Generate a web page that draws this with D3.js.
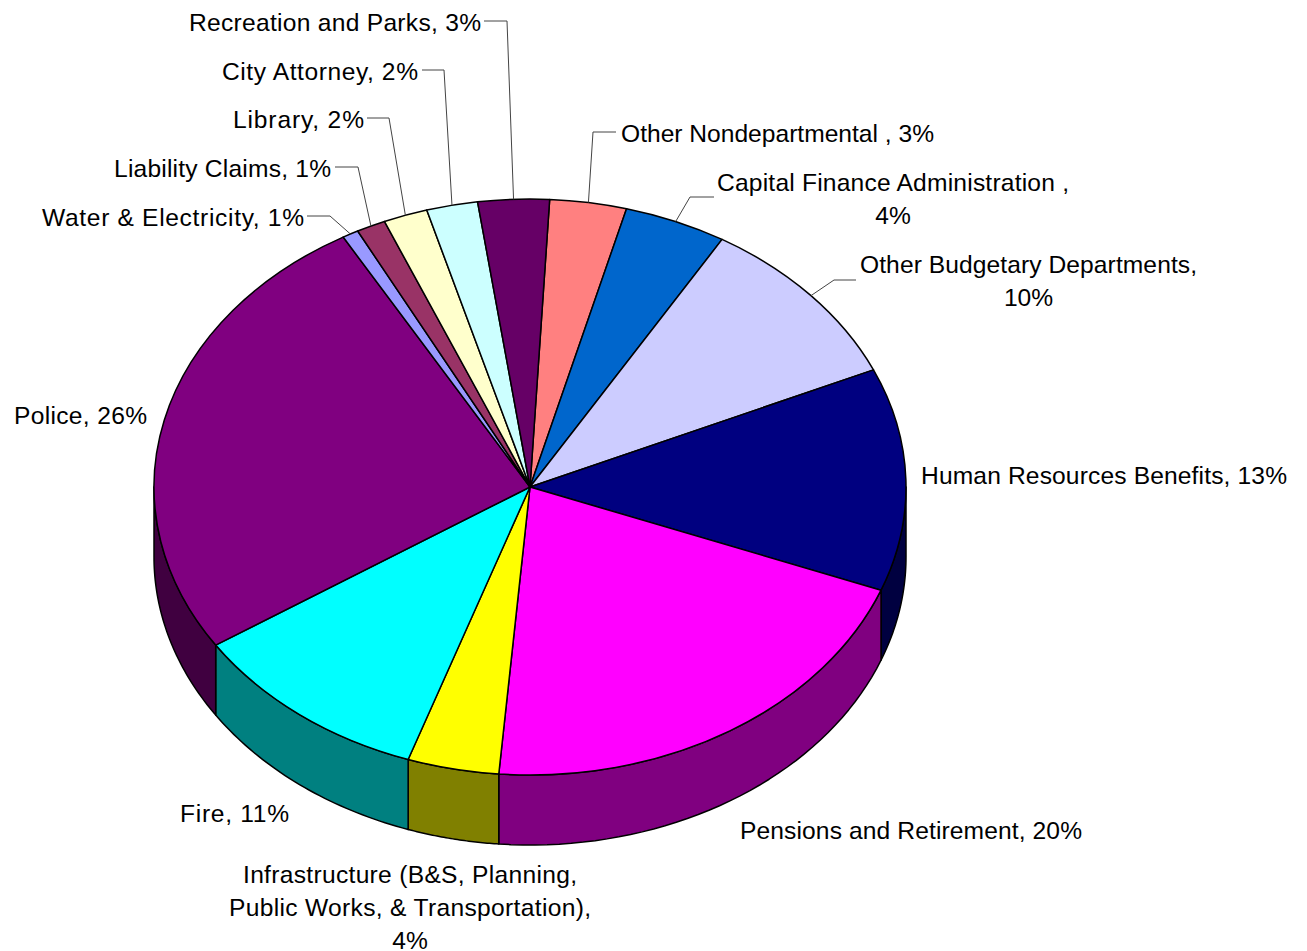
<!DOCTYPE html>
<html>
<head>
<meta charset="utf-8">
<script src="https://cdn.jsdelivr.net/npm/d3@7/dist/d3.min.js"></script>
<style>
html,body{margin:0;padding:0;background:#fff;overflow:hidden}
svg{display:block}
text{font-family:"Liberation Sans",Arial,sans-serif;font-size:24.6px;fill:#000}
</style>
</head>
<body>
<svg id="chart" width="1307" height="951"></svg>
<script>
// General fund shares by department, clockwise from the top of the pie
const departments = [
  "Other Nondepartmental ",
  "Capital Finance Administration ",
  "Other Budgetary Departments",
  "Human Resources Benefits",
  "Pensions and Retirement",
  "Infrastructure (B&S, Planning,\nPublic Works, & Transportation)",
  "Fire",
  "Police",
  "Water & Electricity",
  "Liability Claims",
  "Library",
  "City Attorney",
  "Recreation and Parks"
];
const shares = [3.3, 4.4, 9.8, 12.5, 20.49, 3.93, 10.5, 25.97, 0.7, 1.25, 1.9, 2.2, 3.06];
const topColors = ["#FF8080","#0066CC","#CCCCFF","#000080","#FF00FF","#FFFF00","#00FFFF","#800080","#9999FF","#993366","#FFFFCC","#CCFFFF","#660066"];
const wallColors = ["#804040","#003366","#666680","#000040","#800080","#808000","#008080","#400040","#4d4d80","#4d1933","#808066","#668080","#330033"];

// Label placement, in the same order as the departments
const labelX = [621, 893, 1028.5, 921, 740, 410, 180, 14, 42, 114, 233, 222, 189];
const labelY = [142, 191, 273, 484, 839, 883, 822, 424, 226, 177, 128, 80, 31];
const labelAnchor = ["start","middle","middle","start","start","middle","start","start","start","start","start","start","start"];
const wrapped = [false, true, true, false, false, true, false, false, false, false, false, false, false];
// Set widths of each label's lines, so the text runs fill the same extent
const lineWidths = [[313],[352,null],[337,null],[366],[342],[334,362,null],[109],[133],[262],[217],[131],[196],[292]];

// Leader polylines start beside the label and bend once before reaching the slice
const leaderStart = [[616,132],[714,197],[856,280],null,null,null,null,null,[307,216],[335,167],[367,118],[422,70],[484,21]];
const leaderBend  = [[593,132],[690,197],[834,280],null,null,null,null,null,[330,216],[358,167],[389,118],[444,70],[507,21]];

const cx = 530, cy = 487, rx = 376, ry = 288, depth = 70;
const svg = d3.select("#chart");

const pie = d3.pie().sort(null)
  .startAngle(3 * Math.PI / 180)
  .endAngle(3 * Math.PI / 180 + 2 * Math.PI);
const slices = pie(shares);

const depthScale = d3.scaleLinear().domain([0, 1]).range([0, depth]);
const rimPoint = (a, level) => [cx + rx * Math.sin(a), cy - ry * Math.cos(a) + depthScale(level)];
const line = d3.line();

// Side wall: only the part facing the viewer (between 90 and 270 degrees) shows
const wallPath = (s) => {
  const a0 = Math.max(s.startAngle, Math.PI / 2);
  const a1 = Math.min(s.endAngle, 3 * Math.PI / 2);
  if (a1 <= a0) return null;
  const angles = d3.range(0, 41).map(i => a0 + (a1 - a0) * i / 40);
  const pts = angles.map(a => rimPoint(a, 0)).concat(angles.slice().reverse().map(a => rimPoint(a, 1)));
  return line(pts) + "Z";
};

svg.append("g").selectAll("path")
  .data(slices.filter(s => wallPath(s)))
  .join("path")
  .attr("d", wallPath)
  .attr("fill", d => wallColors[d.index])
  .attr("stroke", "#000")
  .attr("stroke-width", 1.5)
  .attr("stroke-linejoin", "round");

// Top face: a circular arc squashed into an ellipse
const arc = d3.arc().innerRadius(0).outerRadius(rx);
svg.append("g")
  .attr("transform", `translate(${cx},${cy}) scale(1,${ry / rx})`)
  .selectAll("path")
  .data(slices)
  .join("path")
  .attr("d", arc)
  .attr("fill", d => topColors[d.index])
  .attr("stroke", "#000")
  .attr("stroke-width", 1.5)
  .attr("vector-effect", "non-scaling-stroke")
  .attr("stroke-linejoin", "round");

// Leader lines
svg.append("g").selectAll("path")
  .data(slices.filter(s => leaderStart[s.index]))
  .join("path")
  .attr("d", s => line([leaderStart[s.index], leaderBend[s.index], rimPoint((s.startAngle + s.endAngle) / 2, 0)]))
  .attr("fill", "none")
  .attr("stroke", "#444")
  .attr("stroke-width", 1);

// Labels: name and rounded share, broken over lines where the name is long
const labelLines = (i) => {
  const pct = Math.round(shares[i]) + "%";
  return (departments[i] + "," + (wrapped[i] ? "\n" : " ") + pct).split("\n");
};
const lineHeight = 33;
const labelGroup = svg.append("g");
departments.forEach((_, i) => {
  labelLines(i).forEach((t, n) => {
    const w = lineWidths[i][n];
    const label = labelGroup.append("text")
      .attr("text-anchor", labelAnchor[i])
      .attr("x", labelX[i])
      .attr("y", labelY[i] + n * lineHeight)
      .text(t);
    if (w) label.attr("textLength", w).attr("lengthAdjust", "spacing");
  });
});
</script>
</body>
</html>
